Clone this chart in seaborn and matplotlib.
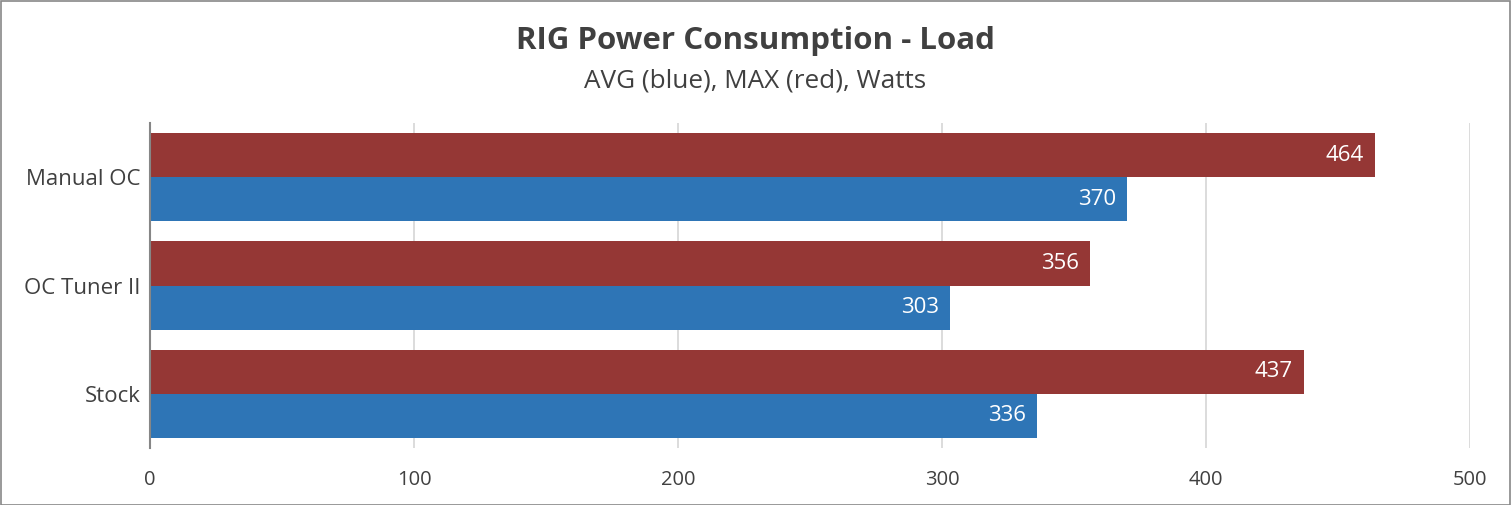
import matplotlib
matplotlib.use("Agg")
import matplotlib.pyplot as plt
import seaborn as sns
import pandas as pd
from matplotlib.patches import Rectangle

categories = ["Manual OC", "OC Tuner II", "Stock"]
max_values = [464, 356, 437]
avg_values = [370, 303, 336]
series_names = ["MAX", "AVG"]
x_ticks = [0, 100, 200, 300, 400, 500]

df = pd.DataFrame({
    "config": categories * 2,
    "watts": max_values + avg_values,
    "series": ["MAX"] * len(categories) + ["AVG"] * len(categories),
})

sns.set_theme(style="white")
plt.rcParams["font.family"] = ["Open Sans", "DejaVu Sans"]

W, H = 1511, 505
fig = plt.figure(figsize=(W / 100, H / 100), dpi=100)
ax = fig.add_axes([150 / W, 1 - 448 / H, (1470 - 150) / W, (448 - 123) / H])

sns.barplot(data=df, y="config", x="watts", hue="series", hue_order=series_names,
            order=categories, palette={"MAX": "#953735", "AVG": "#2E75B6"},
            orient="h", width=0.815, gap=0, saturation=1, ax=ax, legend=False,
            linewidth=0, errorbar=None)

ax.set_xlim(0, 500)
ax.set_ylim(2.5, -0.5)
ax.set_xticks(x_ticks)
ax.set_xticklabels([str(t) for t in x_ticks])
ax.set_xlabel("")
ax.set_ylabel("")
ax.grid(axis="x", color="#d9d9d9", linewidth=1.3)
ax.set_axisbelow(True)
for s in ["top", "right", "bottom"]:
    ax.spines[s].set_visible(False)
ax.spines["left"].set_color("#868686")
ax.spines["left"].set_linewidth(1.5)
ax.tick_params(axis="x", length=0, pad=16, labelsize=14.5, labelcolor="#404040")
ax.tick_params(axis="y", length=0, pad=7, labelsize=16, labelcolor="#404040")

for cont in ax.containers:
    texts = ax.bar_label(cont, padding=-8, color="white", fontsize=16)
    for t in texts:
        t.set_ha("right")

fig.text(0.5, 1 - 41 / H, "RIG Power Consumption - Load", ha="center", va="center",
         fontsize=22.5, fontweight="bold", color="#404040")
fig.text(0.5, 1 - 81 / H, "AVG (blue), MAX (red), Watts", ha="center", va="center",
         fontsize=18.8, color="#404040")

fig.patches.append(Rectangle((0.5 / W, 0.5 / H), 1 - 1.5 / W, 1 - 1.5 / H,
                             transform=fig.transFigure, fill=False,
                             edgecolor="#878787", linewidth=1.2))

fig.savefig("out.png", dpi=100, facecolor="white")
